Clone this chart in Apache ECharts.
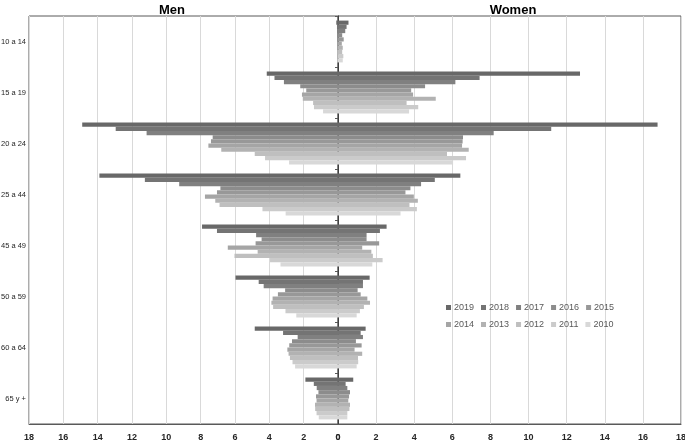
<!DOCTYPE html>
<html>
<head>
<meta charset="utf-8">
<script src="https://cdn.jsdelivr.net/npm/echarts@6/dist/echarts.min.js"></script>
<style>
  html, body { margin: 0; padding: 0; background: #fff; }
  #chart { width: 685px; height: 440px; }
</style>
</head>
<body>
<div id="chart"></div>
<script>
  // age groups, top to bottom
  const ages = ['10 a 14', '15 a 19', '20 a 24', '25 a 44', '45 a 49', '50 a 59', '60 a 64', '65 y +'];
  const years = ['2019', '2018', '2017', '2016', '2015', '2014', '2013', '2012', '2011', '2010'];
  const xTicks = [0, 2, 4, 6, 8, 10, 12, 14, 16, 18];

  // values per age group, in the order of years (2019 ... 2010)
  const men10a14 = [0.1, 0.06, 0.05, 0.05, 0.04, 0.05, 0.04, 0.05, 0.04, 0.04];
  const men15a19 = [4.15, 3.7, 3.15, 2.2, 1.85, 2.1, 2.05, 1.45, 1.4, 0.87];
  const men20a24 = [14.9, 12.95, 11.15, 7.3, 7.4, 7.55, 6.8, 4.85, 4.25, 2.85];
  const men25a44 = [13.9, 11.25, 9.25, 6.85, 7.05, 7.75, 7.15, 6.9, 4.4, 3.05];
  const men45a49 = [7.92, 7.05, 4.77, 4.45, 4.8, 6.42, 4.68, 6.03, 3.96, 3.35];
  const men50a59 = [5.97, 4.62, 4.33, 3.08, 3.5, 3.81, 3.88, 3.78, 3.06, 2.43];
  const men60a64 = [4.85, 3.2, 2.35, 2.68, 2.84, 2.95, 2.88, 2.8, 2.65, 2.5];
  const men65ymas = [1.9, 1.41, 1.24, 1.14, 1.28, 1.25, 1.34, 1.33, 1.25, 1.12];

  const women10a14 = [0.55, 0.45, 0.38, 0.22, 0.3, 0.2, 0.25, 0.22, 0.28, 0.25];
  const women15a19 = [12.7, 7.43, 6.16, 4.57, 3.84, 3.94, 5.13, 3.6, 4.21, 3.73];
  const women20a24 = [16.77, 11.19, 8.17, 6.56, 6.54, 6.51, 6.86, 5.72, 6.72, 6.04];
  const women25a44 = [6.42, 5.08, 4.36, 3.8, 3.54, 3.98, 4.19, 3.75, 4.14, 3.28];
  const women45a49 = [2.55, 2.2, 1.5, 1.5, 2.16, 1.27, 1.75, 1.83, 2.34, 1.8];
  const women50a59 = [1.66, 1.31, 1.31, 1.03, 1.19, 1.54, 1.68, 1.36, 1.15, 0.98];
  const women60a64 = [1.45, 1.19, 1.31, 0.94, 1.24, 0.87, 1.27, 1.05, 1.06, 0.98];
  const women65ymas = [0.8, 0.4, 0.49, 0.63, 0.58, 0.54, 0.63, 0.6, 0.49, 0.49];

  const menRows = [men10a14, men15a19, men20a24, men25a44, men45a49, men50a59, men60a64, men65ymas];
  const womenRows = [women10a14, women15a19, women20a24, women25a44, women45a49, women50a59, women60a64, women65ymas];

  const colors = ['#686868', '#747474', '#808080', '#8c8c8c', '#989898', '#a5a5a5', '#b2b2b2', '#bfbfbf', '#cbcbcb', '#d8d8d8'];
  const font = '"Liberation Sans Narrow", "Liberation Sans", Arial, sans-serif';

  let chart = echarts.init(document.getElementById('chart'));

  let series = [];
  years.forEach(function (year, i) {
    let common = {
      name: year,
      type: 'bar',
      barGap: '0%',
      barCategoryGap: '18%',
      itemStyle: { color: colors[i] },
      emphasis: { disabled: true },
      animation: false
    };
    series.push(Object.assign({}, common, {
      xAxisIndex: 0,
      yAxisIndex: 0,
      data: menRows.map(function (row) { return row[i]; })
    }));
    series.push(Object.assign({}, common, {
      xAxisIndex: 1,
      yAxisIndex: 1,
      data: womenRows.map(function (row) { return row[i]; })
    }));
  });

  let legendCommon = {
    orient: 'horizontal',
    left: 441,
    itemWidth: 5,
    itemHeight: 5,
    itemGap: 7,
    icon: 'rect',
    selectedMode: false,
    textStyle: { fontFamily: font, fontSize: 9, color: '#595959', width: 17, padding: [0, 0, 0, -2] }
  };

  let xAxisCommon = {
    type: 'value',
    min: xTicks[0],
    max: xTicks[xTicks.length - 1],
    interval: xTicks[1] - xTicks[0],
    axisLine: { show: true, lineStyle: { color: '#595959', width: 1 } },
    axisTick: { show: false },
    splitLine: { show: true, lineStyle: { color: '#d9d9d9', width: 1 } },
    axisLabel: { fontFamily: font, fontSize: 9, color: '#262626', margin: 9, fontWeight: 'bold' }
  };

  let option = {
    backgroundColor: '#ffffff',
    animation: false,
    title: [
      { text: 'Men', left: 167, top: -1, textAlign: 'center',
        textStyle: { fontFamily: '"Liberation Sans", Arial, sans-serif', fontSize: 13, fontWeight: 'bold', color: '#000' } },
      { text: 'Women', left: 508, top: -1, textAlign: 'center',
        textStyle: { fontFamily: '"Liberation Sans", Arial, sans-serif', fontSize: 13, fontWeight: 'bold', color: '#000' } }
    ],
    legend: [
      Object.assign({}, legendCommon, { top: 298, data: years.slice(0, 5) }),
      Object.assign({}, legendCommon, { top: 315, data: years.slice(5) })
    ],
    grid: [
      { left: 29, right: 347, top: 16, bottom: 16, show: true, borderColor: '#595959', borderWidth: 1,
        containLabel: false, outerBoundsMode: 'none' },
      { left: 338, right: 4, top: 16, bottom: 16, show: true, borderColor: '#595959', borderWidth: 1,
        containLabel: false, outerBoundsMode: 'none' }
    ],
    xAxis: [
      Object.assign({}, xAxisCommon, { gridIndex: 0, inverse: true }),
      Object.assign({}, xAxisCommon, { gridIndex: 1 })
    ],
    yAxis: [
      {
        gridIndex: 0,
        type: 'category',
        data: ages,
        inverse: true,
        position: 'left',
        axisLine: { show: true, lineStyle: { color: '#7f7f7f' } },
        axisTick: { show: false },
        axisLabel: { fontFamily: font, fontSize: 7.5, color: '#262626', margin: 3 }
      },
      {
        gridIndex: 1,
        type: 'category',
        data: ages,
        inverse: true,
        position: 'left',
        axisLine: { show: true, lineStyle: { color: '#404040' } },
        axisTick: { show: true, length: 3, lineStyle: { color: '#595959' } },
        axisLabel: { show: false }
      }
    ],
    series: series
  };

  chart.setOption(option);
</script>
</body>
</html>
